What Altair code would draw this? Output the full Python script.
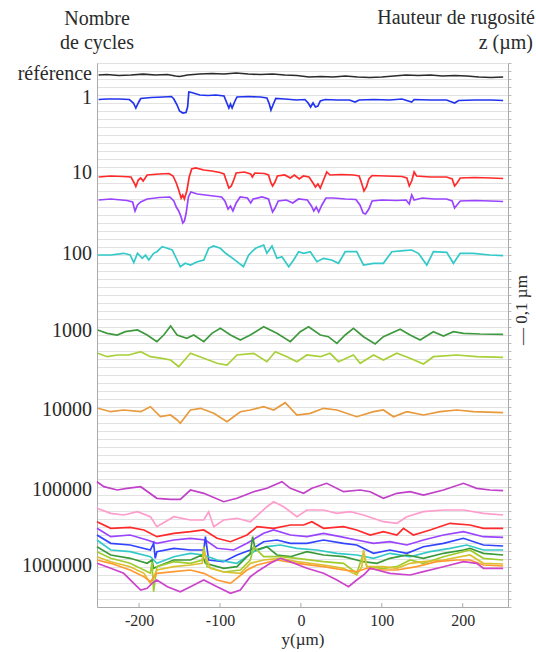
import altair as alt
import pandas as pd

# ---------------- data (y in µm along the profile, z in nm, stacked) ----------------
series_names = ["référence", "1", "10", "10b", "100", "1000", "1000b", "10000",
                "1e5", "c2", "c3", "c4", "c5", "c6", "c7", "c8", "c9", "c10", "1e6"]
series_colors = ["#2b2b2b", "#2233ee", "#ff2a2a", "#9a44ff", "#33c9c9", "#3f9a3f", "#a8d038",
                 "#e89a3c", "#c040c8", "#ff9ccc", "#ff2a2a", "#9a44ff", "#3344ff", "#33c9c9",
                 "#3a9a3a", "#a0cc30", "#dcc030", "#ff9a33", "#cc44cc"]

ref_x = [-250, -240, -225, -210, -195, -180, -165, -155, -150, -140, -125, -110, -95, -80, -65, -50, -35, -20,
         -5, 10, 25, 40, 55, 70, 85, 100, 115, 130, 145, 160, 175, 190, 205, 220, 235, 250]
ref_z = [532, 532.5, 531.5, 532, 532.8, 532, 532.5, 531, 530.5, 532, 533, 533.5, 533, 534, 533, 532.5, 533, 532,
         531.5, 530, 530.5, 530, 531, 530, 529.5, 530, 531, 532, 531.5, 532, 531, 531.5, 531, 530, 529.5, 530]

c1_x = [-250, -240, -225, -212, -207, -204, -201, -198, -185, -170, -160, -157, -153, -150, -146, -142, -140,
        -138.5, -135, -125, -115, -105, -95, -92, -89, -87, -85, -82, -79, -65, -50, -42, -39, -37, -34, -31,
        -20, -5, 5, 9, 12, 15, 18, 21, 24, 30, 45, 60, 67, 72, 90, 110, 125, 137, 140, 160, 180, 190, 195,
        215, 235, 250]
c1_z = [507.5, 508, 508, 507.5, 504, 499, 504, 508.5, 509.5, 510, 510.5, 508, 502, 496, 494, 494.5, 500,
        515, 514.5, 512, 511.5, 512, 511, 505, 499, 503, 499, 505, 510, 510.5, 510, 509, 503, 497, 503, 508.5,
        508, 507, 507.5, 504, 500, 504, 500, 501, 506, 507.5, 507, 507, 505, 507, 507.5, 507, 508, 505, 507.5,
        507, 507, 504, 506.5, 507, 507, 506.5]

c10_x = [-250, -235, -220, -210, -206, -204, -201, -198, -195, -190, -175, -163, -158, -154, -151, -148, -146,
         -144, -141, -138, -135, -130, -120, -110, -100, -95, -92, -89, -86, -83, -80, -70, -62, -60, -57, -45,
         -40, -37, -35, -32, -29, -20, -13, -8, -2, 3, 10, 15, 18, 21, 24, 28, 32, 36, 50, 65, 72, 75, 78, 81,
         84, 88, 105, 125, 131, 134, 137, 140, 143, 160, 180, 187, 190, 193, 197, 215, 235, 250]
c10_z = [430, 431, 430.5, 430, 424, 420.5, 427, 429, 426, 432, 433, 433.5, 431, 424, 417, 409, 412,
         408, 416, 430, 438, 439, 437, 436, 434.5, 433, 426, 419, 421, 427, 434, 435, 433, 430, 434, 433.5,
         432, 424, 421, 425, 431, 432, 429, 432, 428, 431, 430, 424, 420, 423, 419, 427, 435, 432, 432.5, 432,
         431, 424, 416, 420, 428, 431.5, 431, 430.5, 429, 421, 426, 435, 431, 430, 430, 428, 421, 424, 429,
         429.5, 429, 428.5]

c10b_x = [-250, -235, -215, -208, -205, -202, -198, -190, -175, -162, -157, -154, -151, -148, -146, -144, -142,
          -139, -136, -128, -118, -108, -98, -94, -90, -87, -84, -80, -75, -66, -62, -59, -48, -40, -37, -35,
          -32, -28, -18, -10, -3, 8, 13, 16, 19, 22, 26, 31, 40, 55, 68, 73, 77, 80, 84, 88, 100, 118, 130, 134,
          137, 140, 150, 165, 180, 187, 190, 193, 197, 215, 235, 250]
c10b_z = [407, 408, 406.5, 405, 396, 402, 405, 408, 409.5, 410, 406, 400, 396, 390, 384, 386, 393,
          410, 415, 413, 412, 411, 410, 406, 398, 401, 396, 404, 410, 409, 404, 408, 410, 408, 400, 395,
          399, 406, 407, 404, 408, 407, 401, 396, 400, 395, 402, 409, 409, 408, 407.5, 402, 394, 393, 398, 406,
          407, 406.5, 407, 403, 412, 407, 409, 408, 408, 406, 399, 402, 406, 406.5, 406, 405.5]

c100_x = [-251, -235, -219, -211, -206.5, -202, -196, -192, -188, -182, -178, -171.5, -165, -159, -153, -149,
          -143, -136.5, -128, -120, -114, -108, -99.5, -93, -87, -79, -71, -64.5, -56, -46, -42, -35.7, -29.6,
          -23.4, -15, -9, -2.8, 3.4, 11.6, 19.8, 28, 38, 46.5, 54.8, 69, 77.4, 89.8, 102, 112.4, 126.8, 137,
          145.3, 155.6, 163.8, 180.3, 188.5, 196.8, 213, 233.8, 250]
c100_z = [352, 352, 353.7, 352, 344.3, 353.7, 348.7, 352, 347, 353.7, 355.3, 360.3, 358.7, 357, 347, 340.3,
          343.7, 342, 345.3, 347, 358.7, 361, 358.7, 353.7, 350.3, 345.3, 340.3, 352, 358.7, 362, 353.7, 361,
          348.7, 350.3, 340.3, 347, 355.3, 353.7, 355.3, 345.3, 348.7, 347, 343.7, 355.3, 355.3, 342, 343.7,
          343.7, 355.3, 356.3, 357, 353.7, 342, 355.3, 354.7, 343.7, 353.7, 353.7, 352, 351.3]

c1000_x = [-251, -239.4, -227, -217, -202, -190, -178, -169.5, -161, -153, -141, -132.4, -120, -110, -99.5,
           -87, -74.8, -62.5, -46, -29.6, -13, -0.75, 9.5, 24, 34, 44.5, 54.8, 65, 77.4, 91.8, 102, 122.7,
           135, 147.4, 163.8, 176.2, 188.5, 200.9, 221.5, 250]
c1000_z = [277, 273.7, 272, 275.3, 277, 272, 265.3, 272, 281, 272, 268.7, 272, 265.3, 273.7, 278.7,
           272, 267, 272, 280.3, 273.7, 265.3, 275.3, 280.3, 272, 270.3, 263.7, 272, 278.7, 270.3, 263, 270.3,
           277.7, 272, 267, 275.3, 271, 275.3, 273.7, 273, 272.7]

c1000b_x = [-251, -239.4, -227, -212.7, -198, -186, -171.5, -161, -151, -136.5, -120, -103.6, -91.3, -79,
            -58.4, -42, -31.6, -17.2, -4.9, 7.5, 24, 36, 46.5, 65, 73.3, 89.8, 102, 118.6, 135, 151.5, 163.8,
            192.7, 217.3, 250]
c1000b_z = [253.7, 250.3, 252, 252, 255.3, 250.3, 248.7, 247, 240.3, 253.7, 248.7, 243.7, 242, 252,
            253.7, 245.3, 255.3, 250.3, 245.3, 252, 250.3, 253.7, 245.3, 252, 243.7, 252, 247, 253.7, 248.7,
            243, 250.3, 252, 250.3, 249.7]

c10000_x = [-251, -235, -219, -198, -186, -173.6, -161, -153, -149, -136.5, -124, -107.7, -91.3, -74.8,
            -62.5, -46, -33.7, -19.3, -4.9, 11.6, 28, 44.5, 69, 89.8, 102, 114.5, 131, 151.5, 172, 192.7, 213,
            250]
c10000_z = [198.7, 195.3, 197, 195.3, 200.3, 190.3, 192, 187, 183.7, 197, 198.7, 193.7, 185.3, 195.3,
            197, 200.3, 197, 204.3, 192, 193.7, 198.7, 197, 190.3, 195.3, 197, 190.3, 195.3, 192, 195.3, 197,
            195.3, 194.3]

c1e5_x = [-252, -243.5, -227, -215, -198, -178, -161, -149, -136.5, -120, -95.4, -79, -58.4, -42, -23.4,
          -13, 3.4, 13.6, 32, 52.7, 73.3, 85.7, 102, 118.6, 135, 151.5, 176.2, 200.9, 217.3, 233.8, 250]
c1e5_z = [125.3, 120.3, 117, 118.7, 120.3, 108.7, 107.7, 107.7, 117, 113.7, 105.3, 108.7, 115.3, 118.7,
          125.3, 118.7, 113.7, 118.7, 123.7, 115.3, 117, 115.3, 108.7, 113.7, 115.3, 112, 117, 123.7, 118.7,
          117, 116.3]

c2_x = [-252, -235, -219, -202, -186, -178, -157, -136.5, -120, -114, -107.7, -95.4, -79, -62.5, -42,
        -33.7, -21.3, -4.9, 7.5, 28, 44.5, 61, 77.4, 102, 118.6, 131, 151.5, 176.2, 200.9, 225.6, 250]
c2_z = [98.7, 93.7, 92, 95.3, 90.3, 80.3, 90.3, 87, 87, 95.3, 80.3, 87, 88.7, 85.3, 100.3,
        105.3, 100.3, 90.3, 97, 97, 93.7, 95.3, 92, 85.3, 83.7, 90.3, 95.3, 97, 97, 93.7, 92]

c3_x = [-252, -235, -211, -194, -178, -157, -136.5, -120, -103.6, -87, -66.6, -54.25, -33.7, -13, 3.4,
        13.6, 28, 52.7, 69, 85.7, 102, 118.6, 126.8, 139, 159.7, 184.4, 209, 225.6, 250]
c3_z = [85.3, 78.7, 79.7, 77, 70.3, 73.7, 75.3, 77, 68.7, 65.3, 72, 80.3, 78.7, 82, 82,
        85.3, 78.7, 80.3, 77, 72, 75.3, 72, 78.7, 72, 77, 83.7, 82, 78.7, 78.7]

c4_x = [-252, -235, -211, -190, -178, -157, -136.5, -118, -103.6, -83, -66.6, -46, -33.7, -13, 7.5, 28,
        48.6, 69, 89.8, 110, 131, 151.5, 176.2, 200.9, 225.6, 250]
c4_z = [78.7, 70.3, 72, 67, 63.7, 67, 68.7, 67, 58.7, 57, 63.7, 73.7, 77, 72, 70.3, 73.7,
        70.3, 67, 63.7, 65.3, 62, 67, 72, 75.3, 70.3, 69.7]

c5_x = [-252, -235, -211, -186, -182, -180, -178, -157, -136.5, -120, -118, -114, -95.4, -79, -62.5, -46,
        -29.6, -13, 7.5, 28, 52.7, 69, 89.8, 110, 131, 151.5, 176.2, 200.9, 225.6, 250]
c5_z = [72, 63.7, 62, 57, 63.7, 48.7, 55.3, 58.7, 57, 57, 70.3, 47, 45.3, 52, 57, 65.3,
        67, 63.7, 63.7, 67, 63.7, 62, 53.7, 57, 53.7, 60.3, 63.7, 68.7, 62, 61]

c6_x = [-252, -235, -211, -186, -178, -157, -136.5, -120, -103.6, -79, -58.4, -42, -25.4, -4.9, 19.8,
        44.5, 69, 89.8, 110, 135, 159.7, 184.4, 205, 225.6, 250]
c6_z = [67, 57, 55.3, 50.3, 43.7, 50.3, 53.7, 52, 47, 43.7, 55.3, 60.3, 62, 58.7, 57,
        53.7, 52, 48.7, 53.7, 50.3, 55.3, 58.7, 62, 57, 57]

c7_x = [-252, -235, -211, -190, -184, -182, -178, -157, -136.5, -122, -118, -95.4, -79, -62.5, -59.6,
        -56.3, -42, -29.6, -13, 7.5, 28, 52.7, 77.4, 93.9, 110, 131, 151.5, 176.2, 200.9, 209, 225.6, 250]
c7_z = [60.3, 52, 48.7, 43.7, 47, 38.7, 40.3, 47, 47, 52, 43.7, 38.7, 40.3, 53.7, 70.3,
        57, 60.3, 52, 50.3, 55.3, 52, 50.3, 45.3, 43.7, 48.7, 52, 48.7, 53.7, 57, 58.7, 53.7, 52]

c8_x = [-252, -235, -211, -194, -186, -184, -182, -178, -157, -136.5, -122, -120, -116, -95.4, -74.8,
        -62.5, -58.4, -46, -25.4, -4.9, 28, 52.7, 69, 77.4, 81.5, 102, 118.6, 135, 151.5, 176.2, 209, 225.6,
        250]
c8_z = [55.3, 48.7, 43.7, 37, 33.7, 45.3, 15.3, 40.3, 45.3, 43.7, 47, 60.3, 40.3, 35, 37,
        47, 60.3, 50.3, 50.3, 48.7, 45.3, 43.7, 33.7, 53.7, 40.3, 38.7, 40.3, 47, 43.7, 50.3, 57, 48.7,
        47]

c9_x = [-252, -235, -211, -194, -186, -178, -157, -136.5, -122, -120, -112, -95.4, -74.8, -62.5, -46,
        -25.4, -4.9, 28, 52.7, 69, 75.4, 77.4, 81.5, 102, 118.6, 135, 151.5, 176.2, 209, 225.6, 250]
c9_z = [50.3, 45.3, 40.3, 33.7, 23.7, 37, 40.3, 42, 43.7, 55.3, 38.7, 35, 33.7, 43.7, 47,
        48.7, 45.3, 42, 38.7, 32, 40.3, 57, 40.3, 40.3, 38.7, 43.7, 45.3, 47, 52, 43.7, 43]

c10c_x = [-252, -235, -211, -194, -186, -178, -157, -136.5, -120, -103.6, -87, -66.6, -54.25, -29.6, -4.9,
          28, 52.7, 69, 81.5, 102, 118.6, 143, 168, 192.7, 209, 225.6, 250]
c10c_z = [47, 43.7, 37, 30.3, 25.3, 33.7, 35.3, 37, 33.7, 27, 23.7, 37, 42, 47, 43.7,
          40.3, 37, 35.3, 38.7, 37, 37, 40.3, 45.3, 47, 47, 42, 41]

c1e6_x = [-252, -235, -219, -206.5, -198, -190, -184, -178, -165, -149, -136.5, -120, -103.6, -87, -74.8,
          -62.5, -54.25, -37.8, -25.4, -13, 7.5, 28, 44.5, 58.9, 69, 77.4, 85.7, 93.9, 110, 135, 151.5,
          176.2, 200.9, 217.3, 225.6, 250]
c1e6_z = [43.7, 38.7, 33.7, 23.7, 17, 18.7, 23.7, 27, 20.3, 15.3, 20.3, 27, 20.3, 13.7, 17,
          30.3, 35.3, 43.7, 48.7, 45.3, 38.7, 33.7, 27, 20.3, 27, 32, 38.7, 37, 33.7, 32, 35.3,
          40.3, 45.3, 43.7, 38.7, 38.7]

all_x = [ref_x, c1_x, c10_x, c10b_x, c100_x, c1000_x, c1000b_x, c10000_x, c1e5_x, c2_x, c3_x, c4_x,
         c5_x, c6_x, c7_x, c8_x, c9_x, c10c_x, c1e6_x]
all_z = [ref_z, c1_z, c10_z, c10b_z, c100_z, c1000_z, c1000b_z, c10000_z, c1e5_z, c2_z, c3_z, c4_z,
         c5_z, c6_z, c7_z, c8_z, c9_z, c10c_z, c1e6_z]

cycle_labels = ["référence", "1", "10", "100", "1000", "10000", "100000", "1000000"]
cycle_label_z = [533, 509, 434, 353, 276, 197, 117, 41]

x_ticks = [-200, -100, 0, 100, 200]
grid_z = list(range(0, 545, 8))

rows = []
for i, (name, xs, zs) in enumerate(zip(series_names, all_x, all_z)):
    for j, (xv, zv) in enumerate(zip(xs, zs)):
        rows.append({"s": name, "order": i, "idx": j, "x": xv, "z": zv})
df = pd.DataFrame(rows)

FONT = "Liberation Serif"
TXT = "#2a2a2a"

xscale = alt.Scale(domain=[-252, 256], nice=False, zero=False)
yscale = alt.Scale(domain=[0, 544], nice=False, zero=False)

lines = alt.Chart(df).mark_line(strokeWidth=1.7, interpolate="linear").encode(
    x=alt.X("x:Q", scale=xscale,
            axis=alt.Axis(values=x_ticks, title="y(µm)", labelExpr="'' + datum.value",
                          labelFont=FONT, labelFontSize=16, labelColor=TXT, ticks=False,
                          labelPadding=5, titleFont=FONT, titleFontSize=17, titleFontWeight="normal",
                          titleColor=TXT, titlePadding=3, domainColor="#aaaaaa", grid=False)),
    y=alt.Y("z:Q", scale=yscale,
            axis=alt.Axis(orient="right", values=grid_z, labels=False, title=None, ticks=True,
                          tickSize=3, tickColor="#bbbbbb", domainColor="#aaaaaa", grid=True,
                          gridColor="#e2e2e2", gridWidth=1)),
    color=alt.Color("s:N", scale=alt.Scale(domain=series_names, range=series_colors), legend=None),
    detail="s:N",
    order="idx:Q",
)

lab_df = pd.DataFrame({"lab": cycle_labels, "z": cycle_label_z})
labels = alt.Chart(lab_df).mark_text(align="right", baseline="middle", font=FONT, fontSize=20,
                                     color=TXT, dx=-5).encode(
    x=alt.value(0),
    y=alt.Y("z:Q", scale=yscale,
            axis=alt.Axis(orient="left", labels=False, ticks=False, title=None, grid=False,
                          domainColor="#aaaaaa")),
    text="lab:N",
)

tick_df = pd.DataFrame({"t": x_ticks})
xt = alt.Chart(tick_df).mark_rule(color="#aaaaaa", strokeWidth=1).encode(
    x=alt.X("t:Q", scale=xscale), y=alt.value(544), y2=alt.value(540))

def title_text(txt, x, y, align):
    return alt.Chart(pd.DataFrame({"t": [txt]})).mark_text(
        align=align, baseline="alphabetic", font=FONT, fontSize=20, color=TXT).encode(
        x=alt.value(x), y=alt.value(y), text="t:N")

t1 = title_text("Nombre", 0, -38, "center")
t2 = title_text("de cycles", 0, -14, "center")
t3 = title_text("Hauteur de rugosité", 438, -39, "right")
t4 = title_text("z (µm)", 436, -14, "right")
scale_lab = alt.Chart(pd.DataFrame({"t": ["— 0,1 µm"]})).mark_text(
    align="center", baseline="middle", font=FONT, fontSize=17, color=TXT, angle=270).encode(
    x=alt.value(425), y=alt.value(247), text="t:N")

chart = alt.layer(lines, labels, xt, t1, t2, t3, t4, scale_lab).resolve_axis(y="independent").properties(
    width=411, height=544,
    autosize=alt.AutoSizeParams(type="none"),
    padding={"left": 97, "top": 63, "right": 28, "bottom": 45},
).configure_view(stroke=None).configure(background="white")

chart.save("out.html", embed_options={"renderer": "svg", "actions": False})
